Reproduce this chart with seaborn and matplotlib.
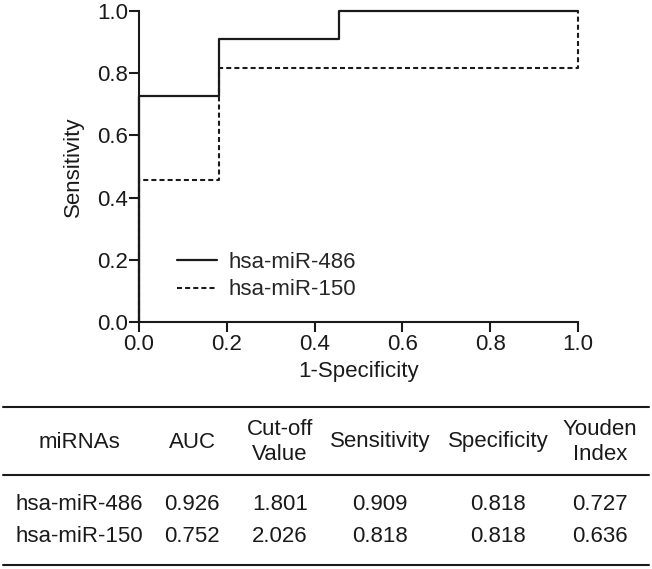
import numpy as np
import pandas as pd
import matplotlib.pyplot as plt
from matplotlib.lines import Line2D
import seaborn as sns

# ROC curve vertices (1-specificity, sensitivity)
fpr_486 = [0.0, 0.0, 0.182, 0.182, 0.455, 0.455, 1.0]
tpr_486 = [0.0, 0.727, 0.727, 0.909, 0.909, 1.0, 1.0]
fpr_150 = [0.0, 0.0, 0.182, 0.182, 1.0, 1.0]
tpr_150 = [0.0, 0.455, 0.455, 0.818, 0.818, 1.0]

# summary table
col_headers = ['miRNAs', 'AUC', 'Cut-off\nValue', 'Sensitivity', 'Specificity', 'Youden\nIndex']
mirnas = ['hsa-miR-486', 'hsa-miR-150']
auc = ['0.926', '0.752']
cutoff = ['1.801', '2.026']
sensitivity = ['0.909', '0.818']
specificity = ['0.818', '0.818']
youden = ['0.727', '0.636']

W, H = 652, 569
FS = 16
INK = '#1a1a1a'

sns.set_theme(style='ticks')
plt.rcParams['font.family'] = ['Liberation Sans', 'DejaVu Sans']

fig = plt.figure(figsize=(W / 100, H / 100), dpi=100)
ax = fig.add_axes([139 / W, 1 - 322 / H, 439 / W, 311 / H])

df486 = pd.DataFrame({'fpr': fpr_486, 'tpr': tpr_486})
df150 = pd.DataFrame({'fpr': fpr_150, 'tpr': tpr_150})
sns.lineplot(data=df150, x='fpr', y='tpr', sort=False, estimator=None, ax=ax,
             color=INK, lw=1.5, linestyle=(0, (2.4, 1.5)), label='hsa-miR-150', clip_on=False)
sns.lineplot(data=df486, x='fpr', y='tpr', sort=False, estimator=None, ax=ax,
             color=INK, lw=1.6, label='hsa-miR-486', clip_on=False)

ax.set_xlim(0, 1)
ax.set_ylim(0, 1)
ax.set_xticks(np.arange(0, 1.01, 0.2))
ax.set_yticks(np.arange(0, 1.01, 0.2))
ax.xaxis.set_major_formatter(plt.FormatStrFormatter('%.1f'))
ax.yaxis.set_major_formatter(plt.FormatStrFormatter('%.1f'))
sns.despine(ax=ax)
for s in ['left', 'bottom']:
    ax.spines[s].set_linewidth(1.5)
    ax.spines[s].set_color(INK)
ax.tick_params(axis='both', length=7, width=1.5, color=INK, labelsize=FS, labelcolor=INK)
ax.tick_params(axis='x', pad=2)
ax.tick_params(axis='y', pad=1)
ax.set_xlabel('1-Specificity', fontsize=FS, color=INK)
ax.set_ylabel('Sensitivity', fontsize=FS, color=INK)
ax.xaxis.set_label_coords(0.5, -0.125)
ax.yaxis.set_label_coords(-0.125, 0.5)

handles, labels = ax.get_legend_handles_labels()
order = [labels.index('hsa-miR-486'), labels.index('hsa-miR-150')]
ax.legend([handles[i] for i in order], [labels[i] for i in order],
          loc='center left', bbox_to_anchor=(0.0866, 0.148), frameon=False,
          fontsize=FS, handlelength=1.8, handletextpad=0.5, labelspacing=0.3,
          borderpad=0, borderaxespad=0)

# table drawn in pixel coordinates
def fx(x):
    return x / W

def fy(y):
    return 1 - y / H

for y in [407, 475, 565]:
    fig.add_artist(Line2D([fx(3), fx(649)], [fy(y), fy(y)], color=INK, lw=1.5))

col_x = [79, 192, 280, 380, 498, 600]
for x, head in zip(col_x, col_headers):
    fig.text(fx(x), fy(442), head, ha='center', va='center', fontsize=FS,
             color=INK, linespacing=1.3)

rows = list(zip(mirnas, auc, cutoff, sensitivity, specificity, youden))
for y, row in zip([504, 537], rows):
    for x, val in zip(col_x, row):
        fig.text(fx(x), fy(y), val, ha='center', va='center', fontsize=FS, color=INK)

plt.savefig('out.png', dpi=100)
plt.close()
